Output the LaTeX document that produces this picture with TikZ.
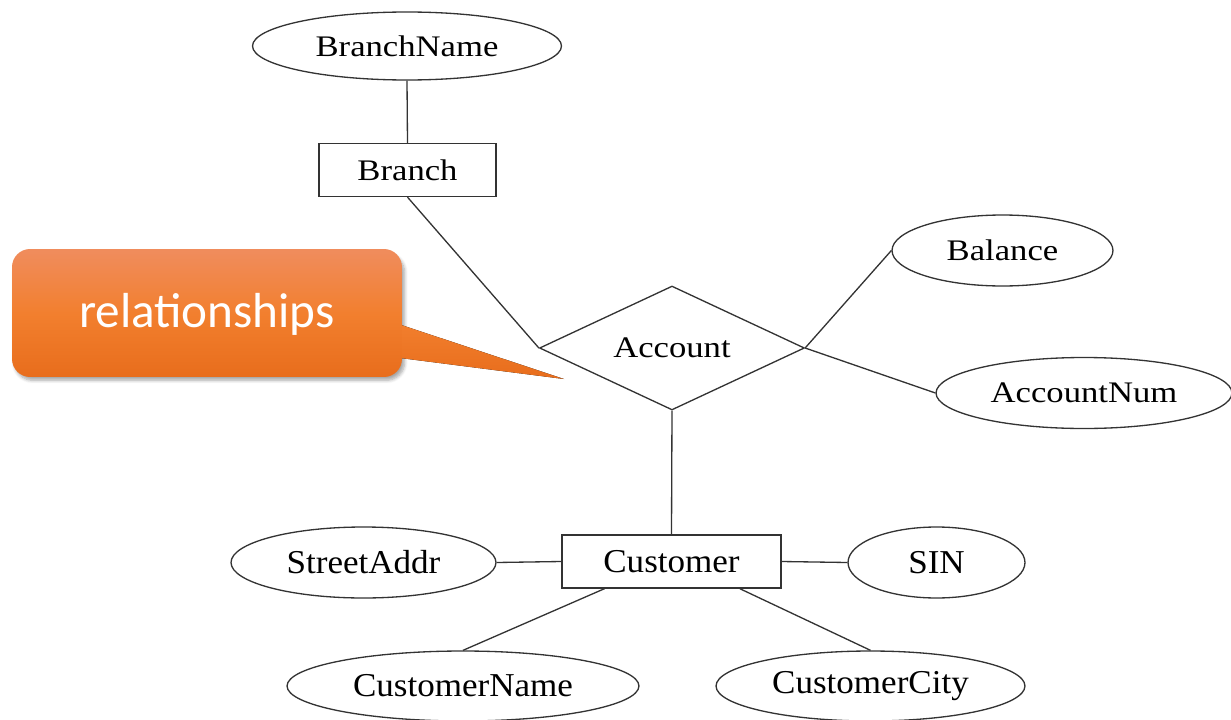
\documentclass[tikz,border=0pt]{standalone}
\usepackage{fontspec}
\setmainfont{Liberation Serif}
\newfontfamily\calloutfont{Carlito}
\usetikzlibrary{shapes.geometric,shadows.blur,calc}

\definecolor{edgegray}{HTML}{333333}
\definecolor{orangetop}{HTML}{F08C5C}
\definecolor{orangemid}{HTML}{F27F2E}
\definecolor{orangebot}{HTML}{E86D1C}

% wide and narrow label lettering
\newcommand{\widelbl}[1]{\scalebox{1.16}[1]{#1}}
\newcommand{\narrowlbl}[1]{\scalebox{1.05}[1]{#1}}

\tikzset{
  erline/.style={draw=edgegray, line width=0.75pt},
  attr/.style={ellipse, erline, inner sep=0pt, fill=white},
  entity/.style={rectangle, erline, inner sep=0pt, fill=white},
  relation/.style={diamond, shape aspect=2.14, erline, inner sep=0pt, fill=white},
  toplbl/.style={font=\fontsize{17}{19}\selectfont},
  botlbl/.style={font=\fontsize{19}{22}\selectfont},
  calloutbox/.style={rounded corners=0.36cm, top color=orangetop, bottom color=orangebot,
    middle color=orangemid, text=white, font=\calloutfont\fontsize{28}{32}\selectfont,
    minimum width=7.8cm, minimum height=2.52cm, inner sep=0pt},
  calloutshadow/.style={blur shadow={shadow xshift=1.5pt, shadow yshift=-3pt,
    shadow blur steps=6, shadow opacity=35}},
}

\begin{document}
\begin{tikzpicture}[x=0.02cm, y=-0.02cm]
\useasboundingbox (0,0) rectangle (1231,720);

% attributes, entities and the relationship
\node[attr, toplbl, minimum width=6.18cm, minimum height=1.36cm] (bname) at (407,46) {\widelbl{BranchName}};
\node[entity, toplbl, minimum width=3.54cm, minimum height=1.06cm] (branch) at (407.5,170) {\widelbl{Branch}};
\node[relation, toplbl, minimum width=5.3cm, minimum height=2.48cm] (acct) at (672,348) {\widelbl{Account}};
\node[attr, toplbl, minimum width=4.42cm, minimum height=1.42cm] (bal) at (1002.5,250.5) {\widelbl{Balance}};
\node[attr, toplbl, minimum width=5.92cm, minimum height=1.42cm] (anum) at (1084,393) {\widelbl{AccountNum}};
\node[entity, botlbl, minimum width=4.38cm, minimum height=1.06cm] (cust) at (671.5,561.5) {\narrowlbl{Customer}};
\node[attr, botlbl, minimum width=5.3cm, minimum height=1.42cm] (street) at (363.5,562.5) {\narrowlbl{StreetAddr}};
\node[attr, botlbl, minimum width=3.54cm, minimum height=1.42cm] (sin) at (936.5,562.5) {\narrowlbl{SIN}};
\node[attr, botlbl, minimum width=7.04cm, minimum height=1.40cm] (cname) at (463,686) {\narrowlbl{CustomerName}};
\node[attr, botlbl, minimum width=6.18cm, minimum height=1.40cm] (ccity) at (870.5,686) {\narrowlbl{CustomerCity}};

% connectors
\draw[erline] (bname.south) -- (branch.north);
\draw[erline] (branch.south) -- (acct.west);
\draw[erline] (acct.east) -- (bal.west);
\draw[erline] (acct.east) -- (anum.west);
\draw[erline] (acct.south) -- (cust.north);
\draw[erline] (street.east) -- (cust.west);
\draw[erline] (cust.east) -- (sin.west);
\draw[erline] ($(cust.south west)!0.196!(cust.south east)$) -- (cname.north);
\draw[erline] ($(cust.south west)!0.81!(cust.south east)$) -- (ccity.north);

% callout with its pointer
\coordinate (tip) at (564,379);
\node[calloutbox, calloutshadow] (call) at (207,312) {};
\fill[top color=orangemid, bottom color=orangebot]
  ($(call.east)+(-10,10)$) -- (tip) -- ($(call.east)+(-10,45)$) -- cycle;
\node[calloutbox] (calltext) at ($(call.center)+(0,2)$) {relationships};
\end{tikzpicture}
\end{document}
